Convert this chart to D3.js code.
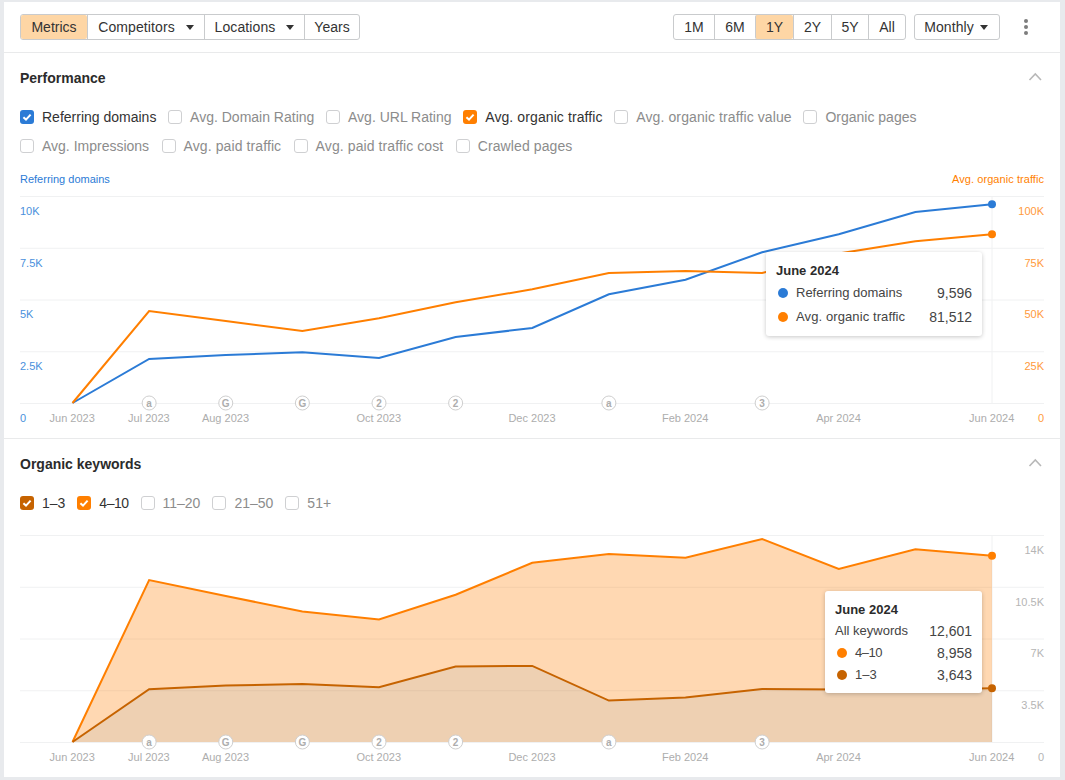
<!DOCTYPE html>
<html>
<head>
<meta charset="utf-8">
<script src="https://cdn.jsdelivr.net/npm/d3@7"></script>
<style>
  html, body { margin: 0; padding: 0; background: #e8eaed; }
  body { width: 1065px; height: 780px; overflow: hidden; position: relative;
         font-family: "Liberation Sans", Arial, sans-serif; color: #333; }
  #card { position: absolute; left: 4px; top: 2px; width: 1056px; height: 775px; background: #fff; }
  #charts { position: absolute; left: 0; top: 0; }
  .rule { position: absolute; left: 4px; width: 1056px; height: 1px; background: #e9eaeb; }
  .btns { position: absolute; top: 14px; height: 26px; display: flex; box-sizing: border-box;
          border: 1px solid #c9cbcd; border-radius: 3px; font-size: 14px; }
  .btn { display: flex; align-items: center; justify-content: center; box-sizing: border-box;
         border-left: 1px solid #c9cbcd; height: 24px; }
  .btn:first-child { border-left: 0; }
  .btn.on { background: #fed6a5; border-radius: 2px; }
  .caret { width: 0; height: 0; border-left: 4px solid transparent; border-right: 4px solid transparent;
           border-top: 5px solid #333; margin-left: 11px; }
  .title { position: absolute; left: 20px; font-size: 14px; font-weight: bold; line-height: 16px; color: #2b2b2b; }
  .checks { position: absolute; left: 20px; display: flex; font-size: 14px; line-height: 16px; color: #8c8c8c; }
  .check { display: flex; align-items: center; }
  .check.on { color: #333; }
  .box { width: 14px; height: 14px; box-sizing: border-box; border: 1px solid #cfd0d2; border-radius: 3px;
         margin-right: 8px; display: block; }
  .tip { position: absolute; background: #fff; border-radius: 3px; box-sizing: border-box;
         box-shadow: 0 1px 4px rgba(0,0,0,.22); font-size: 13px; color: #444; }
  .tip div { position: absolute; white-space: nowrap; line-height: 16px; }
  .tip .head { font-weight: bold; color: #2b2b2b; }
  .tip .val { right: 10px; font-size: 14px; }
  .tip .dot { width: 10px; height: 10px; border-radius: 50%; }
</style>
</head>
<body>
<div id="card"></div>
<svg id="charts" width="1065" height="780"></svg>
<script>
// data
const months = ["Jun 2023", "Jul 2023", "Aug 2023", "Sep 2023", "Oct 2023", "Nov 2023", "Dec 2023",
  "Jan 2024", "Feb 2024", "Mar 2024", "Apr 2024", "May 2024", "Jun 2024"];
const monthTicks = ["Jun 2023", "Jul 2023", "Aug 2023", "Oct 2023", "Dec 2023", "Feb 2024", "Apr 2024", "Jun 2024"];

const referringDomains = [0, 2126, 2319, 2449, 2174, 3188, 3623, 5251, 5957, 7280, 8150, 9227, 9596];
const organicTraffic = [0, 44444, 39614, 34783, 40918, 48647, 54928, 62802, 63768, 62802, 72222, 78116, 81512];
const keywords1to3 = [0, 3569, 3820, 3928, 3705, 5107, 5147, 2804, 3007, 3590, 3549, 3535, 3643];
const keywords4to10 = [0, 7383, 6048, 4904, 4585, 4849, 6977, 9909, 9455, 10139, 8148, 9496, 8958];

const domainTicks = [0, 2500, 5000, 7500, 10000];
const domainLabels = ["0", "2.5K", "5K", "7.5K", "10K"];
const trafficTicks = [0, 25000, 50000, 75000, 100000];
const trafficLabels = ["0", "25K", "50K", "75K", "100K"];
const keywordTicks = [0, 3500, 7000, 10500, 14000];
const keywordLabels = ["0", "3.5K", "7K", "10.5K", "14K"];

const eventMonths = ["Jul 2023", "Aug 2023", "Sep 2023", "Oct 2023", "Nov 2023", "Jan 2024", "Mar 2024"];
const eventMarks = ["a", "G", "G", "2", "2", "a", "3"];

const viewTabs = ["Metrics", "Competitors", "Locations", "Years"];
const rangeTabs = ["1M", "6M", "1Y", "2Y", "5Y", "All"];
const metricsRow1 = ["Referring domains", "Avg. Domain Rating", "Avg. URL Rating", "Avg. organic traffic", "Avg. organic traffic value", "Organic pages"];
const metricsRow2 = ["Avg. Impressions", "Avg. paid traffic", "Avg. paid traffic cost", "Crawled pages"];
const keywordRow = ["1–3", "4–10", "11–20", "21–50", "51+"];

const blue = "#2b7bd6", orange = "#ff7f00", brown = "#c66300";
const checkColors = { "Referring domains": blue, "Avg. organic traffic": orange, "1–3": brown, "4–10": orange };

const body = d3.select("body");
const svg = d3.select("#charts");

// liberation sets these a little narrower / wider than the screenshot font
function spacingFor(t) {
  if (t.includes("traffic") || t === "Crawled pages") return "0.1px";
  if (t === "4–10") return "-0.5px";
  return null;
}

// ---- page chrome ----
[52, 438].forEach(y => body.append("div").attr("class", "rule").style("top", y + "px"));

function buttonGroup(left, width, labels, widths, active, carets) {
  const g = body.append("div").attr("class", "btns").style("left", left + "px").style("width", width + "px");
  labels.forEach((t, i) => {
    const b = g.append("div").attr("class", "btn" + (t === active ? " on" : "")).style("width", widths[i] + "px");
    const s = b.append("span").text(t);
    if (carets.includes(t)) {
      s.style("letter-spacing", "0.1px");
      b.append("span").attr("class", "caret");
    }
  });
  return g;
}
buttonGroup(20, 340, viewTabs, [66, 117, 100, 55], "Metrics", ["Competitors", "Locations"]);
buttonGroup(673, 233, rangeTabs, [40, 41, 38, 38, 37, 37], "1Y", []);
buttonGroup(914, 86, ["Monthly"], [82], "", ["Monthly"]).select(".caret").style("margin-left", "6px");

function title(t, top) {
  body.append("div").attr("class", "title").style("top", top + "px").text(t);
}
title("Performance", 70);
title("Organic keywords", 456);

function checkRow(labels, top, gap) {
  const row = body.append("div").attr("class", "checks").style("top", top + "px");
  labels.forEach(t => {
    const color = checkColors[t];
    const c = row.append("div").attr("class", "check" + (color ? " on" : "")).style("margin-right", gap + "px");
    const b = c.append("svg").attr("class", "box").attr("viewBox", "0 0 14 14");
    if (color) {
      b.style("background", color).style("border", "0");
      b.append("path").attr("d", "M3.4 7.2 L6 9.6 L10.6 4.6").attr("fill", "none")
        .attr("stroke", "#fff").attr("stroke-width", 2);
    }
    c.append("span").style("letter-spacing", spacingFor(t)).text(t);
  });
}
checkRow(metricsRow1, 109, 11.7);
checkRow(metricsRow2, 138, 12.4);
checkRow(keywordRow, 495, 12);

// three dots + collapse chevrons
svg.append("g").attr("fill", "#7d7d7d").selectAll("circle").data([21, 27, 33]).join("circle")
  .attr("cx", 1026).attr("cy", d => d).attr("r", 2);
svg.selectAll("path.chev").data([77, 463]).join("path").attr("class", "chev")
  .attr("d", d => `M1029.5 ${d + 3} L1035.3 ${d - 3} L1041 ${d + 3}`)
  .attr("fill", "none").attr("stroke", "#b8b8b8").attr("stroke-width", 1.6);

// ---- charts ----
const x = d3.scalePoint().domain(months).range([72.5, 992]);

function styleAxis(g, side, color) {
  g.select(".domain").remove();
  g.selectAll("line").attr("stroke", "#f0f1f2");
  g.selectAll("text").attr("x", 0).attr("y", 14.85).attr("dy", "0.32em")
    .attr("text-anchor", side).attr("fill", color).style("font-size", "11px")
    .style("font-family", '"Liberation Sans", Arial, sans-serif');
}

function monthAxis(y0) {
  const g = svg.append("g").attr("transform", `translate(0,${y0})`)
    .call(d3.axisBottom(x).tickValues(monthTicks).tickSize(0).tickPadding(0));
  g.select(".domain").remove();
  g.selectAll("text").attr("x", -0.8).attr("y", 15).attr("dy", "0.32em").attr("fill", "#adadad").style("font-size", "11px")
    .style("font-family", '"Liberation Sans", Arial, sans-serif');
}

function eventBadges(y0) {
  const g = svg.append("g").selectAll("g").data(eventMonths).join("g")
    .attr("transform", d => `translate(${x(d)},${y0})`);
  g.append("circle").attr("r", 7).attr("fill", "#fff").attr("stroke", "#cfcfcf");
  g.append("text").text((d, i) => eventMarks[i]).attr("text-anchor", "middle").attr("dy", "0.35em")
    .attr("fill", "#adadad").style("font-size", "10px").style("font-weight", "bold");
}

function hairline(y0, y1) {
  svg.append("line").attr("x1", x(months[12])).attr("x2", x(months[12]))
    .attr("y1", y0).attr("y2", y1).attr("stroke", "#f0f1f2");
}

function lineOf(y, accessor) {
  return d3.line().x((d, i) => x(months[i])).y(accessor || (d => y(d)));
}

// performance chart
const yDomains = d3.scaleLinear().domain([0, 10000]).range([403, 196]);
const yTraffic = d3.scaleLinear().domain([0, 100000]).range([403, 196]);

svg.append("g").attr("transform", "translate(20,0)")
  .call(d3.axisRight(yDomains).tickValues(domainTicks).tickFormat((d, i) => domainLabels[i]).tickSize(1024))
  .call(styleAxis, "start", "#4a90dc");
svg.append("g").attr("transform", "translate(1044,0)")
  .call(d3.axisRight(yTraffic).tickValues(trafficTicks).tickFormat((d, i) => trafficLabels[i]).tickSize(0))
  .call(styleAxis, "end", "#ff9a3c");
hairline(196, 403);
monthAxis(403);
eventBadges(403);

svg.append("text").text("Referring domains").attr("x", 20).attr("y", 183)
  .attr("fill", blue).style("font-size", "11px");
svg.append("text").text("Avg. organic traffic").attr("x", 1044).attr("y", 183).attr("text-anchor", "end")
  .attr("fill", orange).style("font-size", "11px").style("letter-spacing", "0.06px");

[[referringDomains, yDomains, blue], [organicTraffic, yTraffic, orange]].forEach(([vals, y, color]) => {
  svg.append("path").datum(vals).attr("d", lineOf(y)).attr("fill", "none").attr("stroke", color).attr("stroke-width", 2);
  svg.append("circle").attr("cx", x(months[12])).attr("cy", y(vals[12])).attr("r", 4).attr("fill", color);
});

// organic keywords chart
const yKeywords = d3.scaleLinear().domain([0, 14000]).range([742, 535]);
svg.append("g").attr("transform", "translate(20,0)")
  .call(d3.axisRight(yKeywords).tickValues(keywordTicks).tickFormat(() => "").tickSize(1024))
  .call(styleAxis, "start", "#b5b5b5");
svg.append("g").attr("transform", "translate(1044,0)")
  .call(d3.axisRight(yKeywords).tickValues(keywordTicks).tickFormat((d, i) => keywordLabels[i]).tickSize(0))
  .call(styleAxis, "end", "#b5b5b5");
hairline(535, 742);
monthAxis(742);

const rows = months.map((m, i) => ({ month: m, low: keywords1to3[i], high: keywords4to10[i] }));
const stacked = d3.stack().keys(["low", "high"])(rows);
const bandColors = [brown, orange];
const bandOpacity = [0.3, 0.3];

stacked.forEach((layer, k) => {
  svg.append("path").datum(layer)
    .attr("d", d3.area().x((d, i) => x(months[i])).y0(d => yKeywords(d[0])).y1(d => yKeywords(d[1])))
    .attr("fill", bandColors[k]).attr("fill-opacity", bandOpacity[k]);
});
[1, 0].forEach(k => {
  svg.append("path").datum(stacked[k])
    .attr("d", lineOf(yKeywords, d => yKeywords(d[1]))).attr("fill", "none")
    .attr("stroke", bandColors[k]).attr("stroke-width", 2);
  svg.append("circle").attr("cx", x(months[12])).attr("cy", yKeywords(stacked[k][12][1])).attr("r", 4)
    .attr("fill", bandColors[k]);
});
eventBadges(742);

// ---- tooltips ----
const fmt = d3.format(",");

function tooltip(left, top, w, h, head, lines) {
  const t = body.append("div").attr("class", "tip")
    .style("left", left + "px").style("top", top + "px").style("width", w + "px").style("height", h + "px");
  t.append("div").attr("class", "head").style("left", "10px").style("top", "11px").text(head);
  lines.forEach(l => {
    if (l.color) t.append("div").attr("class", "dot").style("left", "12px").style("top", (l.top + 3) + "px").style("background", l.color);
    t.append("div").style("left", (l.color ? 30 : 10) + "px").style("top", l.top + "px")
      .style("letter-spacing", spacingFor(l.label)).text(l.label);
    t.append("div").attr("class", "val").style("top", l.top + "px").text(fmt(l.value));
  });
}
tooltip(766, 252, 216, 84, "June 2024", [
  { label: "Referring domains", value: referringDomains[12], color: blue, top: 33 },
  { label: "Avg. organic traffic", value: organicTraffic[12], color: orange, top: 57 }
]);
tooltip(825, 591, 157, 102, "June 2024", [
  { label: "All keywords", value: keywords1to3[12] + keywords4to10[12], top: 32 },
  { label: "4–10", value: keywords4to10[12], color: orange, top: 54 },
  { label: "1–3", value: keywords1to3[12], color: brown, top: 76 }
]);
</script>
</body>
</html>
